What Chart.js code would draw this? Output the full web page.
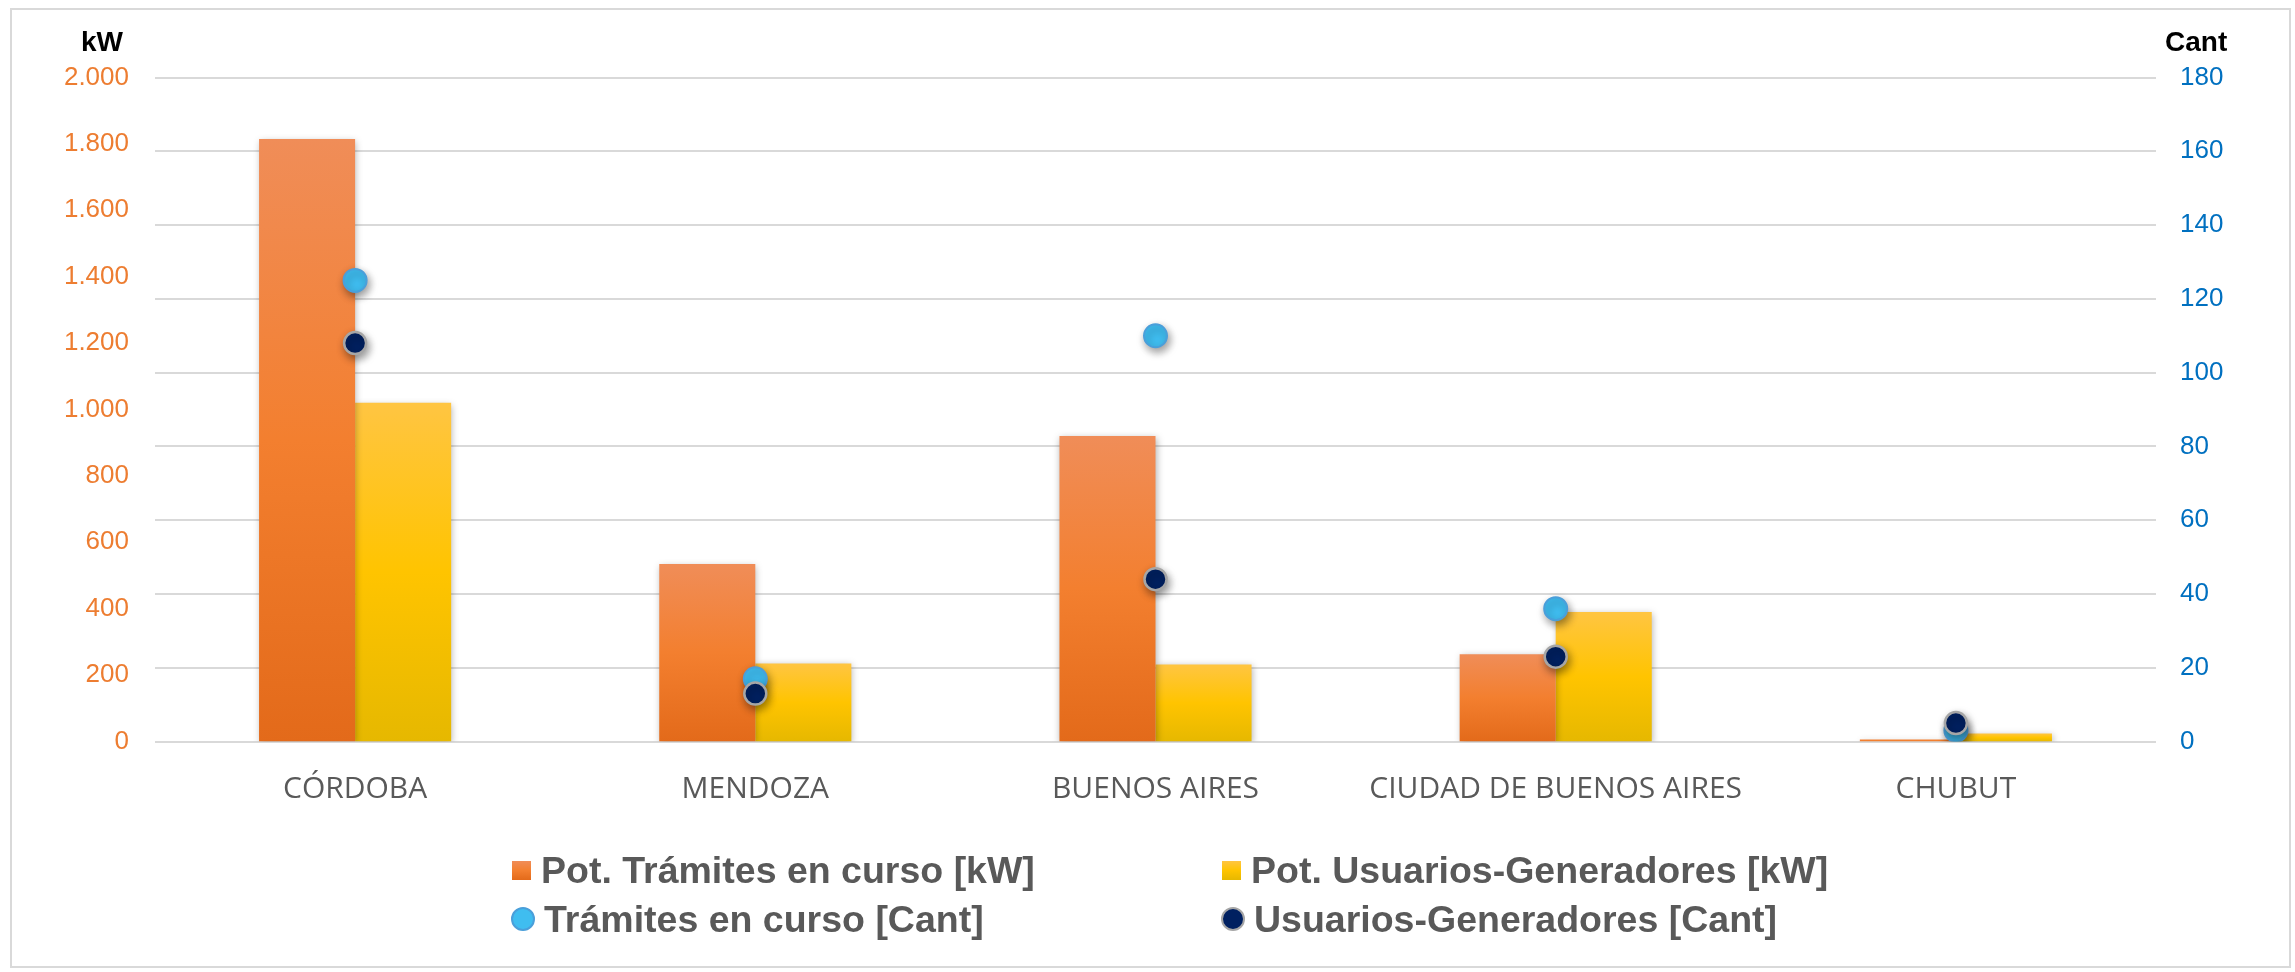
<!DOCTYPE html>
<html lang="es">
<head>
<meta charset="utf-8">
<title>Potencia y cantidad por provincia</title>
<script src="https://cdn.jsdelivr.net/npm/chart.js@4.4.1/dist/chart.umd.min.js"></script>
<style>
  html, body { margin: 0; padding: 0; background: #fff; }
  #wrap { position: relative; width: 2295px; height: 972px; overflow: hidden; }
  #marco { position: absolute; left: 10px; top: 8px; width: 2277px; height: 956px; border: 2px solid #d9d9d9; }
  #grafico { position: absolute; left: 0; top: 0; }
  #leyenda {
    position: absolute; left: 512px; top: 846px;
    display: grid; grid-template-columns: 710px auto;
    font: bold 37.5px "Liberation Sans", Arial, sans-serif; color: #595959;
    line-height: 48.5px;
  }
  .item { display: flex; align-items: center; white-space: nowrap; }
  .marca { flex: none; margin-right: 10px; }
  .marca.barra { width: 19px; height: 19px; }
  .marca.punto { width: 20px; height: 20px; border-radius: 50%; border: 2px solid; margin-left: -1px; margin-right: 9px; }
</style>
</head>
<body>
<div id="wrap">
  <div id="marco"></div>
  <canvas id="grafico" width="2295" height="972"></canvas>
  <div id="leyenda"></div>
</div>
<script>
// Datos
const provincias = ['CÓRDOBA', 'MENDOZA', 'BUENOS AIRES', 'CIUDAD DE BUENOS AIRES', 'CHUBUT'];
const potTramites = [1815, 535, 920, 263, 6];     // kW
const potUsuarios = [1020, 235, 232, 390, 24];    // kW
const cantTramites = [125, 17, 110, 36, 3];       // Cant
const cantUsuarios = [108, 13, 44, 23, 5];        // Cant

// Colores
const naranja = ['#f08d58', '#f37f2f', '#e36a1a'];
const amarillo = ['#ffc542', '#ffc400', '#e6b800'];

// Degradado vertical por barra (como en Excel)
function degradado(colores) {
  return c => {
    const chart = c.chart;
    if (!chart.chartArea || c.raw == null) return colores[1];
    const y = chart.scales.y;
    const top = y.getPixelForValue(c.raw);
    const base = y.getPixelForValue(0);
    if (base - top < 2) return colores[1];
    const g = chart.ctx.createLinearGradient(0, top, 0, base);
    g.addColorStop(0, colores[0]);
    g.addColorStop(0.5, colores[1]);
    g.addColorStop(1, colores[2]);
    return g;
  };
}

// 2000 -> "2.000"
const miles = v => String(v).replace(/\B(?=(\d{3})+(?!\d))/g, '.');

// Sombras de barras y puntos
const sombras = {
  id: 'sombras',
  beforeDatasetDraw(chart, args) {
    const ctx = chart.ctx;
    const esBarra = args.meta.type === 'bar';
    ctx.save();
    ctx.shadowColor = esBarra ? 'rgba(0,0,0,0.3)' : 'rgba(0,0,0,0.4)';
    ctx.shadowBlur = esBarra ? 7 : 8;
    ctx.shadowOffsetX = esBarra ? 1 : 2;
    ctx.shadowOffsetY = esBarra ? 2 : 4;
  },
  afterDatasetDraw(chart) {
    chart.ctx.restore();
  }
};

// Unidades arriba de cada eje
const unidades = {
  id: 'unidades',
  afterDraw(chart) {
    const { ctx, chartArea, scales } = chart;
    ctx.save();
    ctx.font = 'bold 28px "Liberation Sans", Arial, sans-serif';
    ctx.fillStyle = '#000';
    ctx.textBaseline = 'alphabetic';
    ctx.textAlign = 'right';
    ctx.fillText('kW', scales.y.right - 32, chartArea.top - 27);
    ctx.textAlign = 'left';
    ctx.fillText('Cant', scales.y1.left + 9, chartArea.top - 27);
    ctx.restore();
  }
};

const chart = new Chart(document.getElementById('grafico'), {
  data: {
    labels: provincias,
    datasets: [
      {
        type: 'bar', label: 'Pot. Trámites en curso [kW]', data: potTramites, yAxisID: 'y',
        backgroundColor: degradado(naranja), order: 3,
        barPercentage: 1, categoryPercentage: 0.48
      },
      {
        type: 'bar', label: 'Pot. Usuarios-Generadores [kW]', data: potUsuarios, yAxisID: 'y',
        backgroundColor: degradado(amarillo), order: 3,
        barPercentage: 1, categoryPercentage: 0.48
      },
      {
        type: 'line', label: 'Trámites en curso [Cant]', data: cantTramites, yAxisID: 'y1',
        showLine: false, pointRadius: 11.5, pointBorderWidth: 2,
        backgroundColor: '#3fbdf0', borderColor: '#4a9fda', order: 1
      },
      {
        type: 'line', label: 'Usuarios-Generadores [Cant]', data: cantUsuarios, yAxisID: 'y1',
        showLine: false, pointRadius: 11, pointBorderWidth: 2.5,
        backgroundColor: '#002060', borderColor: '#a6a6a6', order: 0
      }
    ]
  },
  options: {
    responsive: false,
    animation: false,
    layout: { padding: { top: 77.5, bottom: 170.5, left: 0, right: 0 } },
    plugins: {
      legend: { display: false },
      tooltip: { enabled: false }
    },
    scales: {
      x: {
        grid: { display: false },
        border: { display: false },
        ticks: {
          color: '#595959', padding: 22,
          font: { family: '"Open Sans", sans-serif', size: 30 }
        },
        afterFit: s => { s.height = 60; }
      },
      y: {
        position: 'left',
        min: 0, max: 2000,
        grid: { display: false },
        border: { display: false },
        ticks: {
          stepSize: 200, color: '#ed7d31', padding: 18,
          font: { family: '"Liberation Sans", Arial, sans-serif', size: 26 },
          callback: v => miles(v)
        },
        afterFit: s => { s.width = 155; }
      },
      y1: {
        position: 'right',
        min: 0, max: 180,
        grid: { color: '#d9d9d9', lineWidth: 2, drawTicks: false },
        border: { display: false },
        ticks: {
          stepSize: 20, color: '#0070c0', padding: 24,
          font: { family: '"Liberation Sans", Arial, sans-serif', size: 26 }
        },
        afterFit: s => { s.width = 139; }
      }
    }
  },
  plugins: [sombras, unidades]
});

// Leyenda en dos columnas
const leyenda = document.getElementById('leyenda');
chart.data.datasets.forEach(ds => {
  const item = document.createElement('div');
  item.className = 'item';
  const marca = document.createElement('span');
  if (ds.type === 'bar') {
    const col = ds === chart.data.datasets[0] ? naranja : amarillo;
    marca.className = 'marca barra';
    marca.style.background = `linear-gradient(${col[0]}, ${col[1]} 50%, ${col[2]})`;
  } else {
    marca.className = 'marca punto';
    marca.style.background = ds.backgroundColor;
    marca.style.borderColor = ds.borderColor;
  }
  const txt = document.createElement('span');
  txt.textContent = ds.label;
  item.appendChild(marca);
  item.appendChild(txt);
  leyenda.appendChild(item);
});
</script>
</body>
</html>
